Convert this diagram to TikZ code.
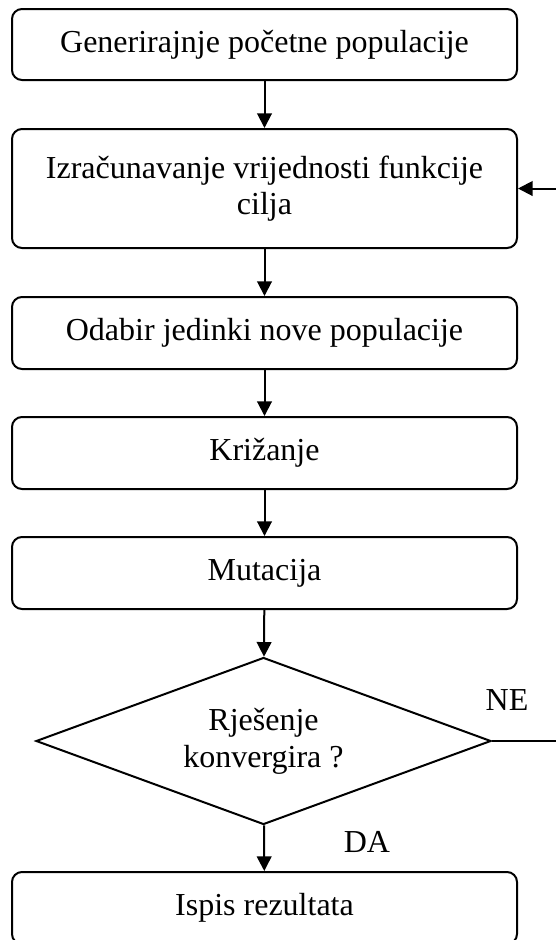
\documentclass[tikz,border=0pt]{standalone}
\usepackage{fontspec}
\setmainfont{Liberation Serif}
\usetikzlibrary{arrows.meta,shapes.geometric}
\tikzset{
  box/.style  = {draw, rounded corners=7.5pt, align=center, line width=1.5pt,
                 minimum width=378.75pt, minimum height=54pt, inner sep=0pt},
  dec/.style  = {draw, diamond, aspect=2.72, align=center, line width=1.5pt,
                 minimum width=341.25pt, minimum height=125.25pt, inner sep=0pt},
  ar/.style   = {-{Triangle[length=11pt,width=11pt]}, line width=1.5pt},
  lbl/.style  = {inner sep=0pt},
}

\begin{document}
\begin{tikzpicture}[x=0.75pt, y=-0.75pt, font=\fontsize{24}{27.5}\selectfont]
\useasboundingbox (0,0) rectangle (556,940);
\clip (0,0) rectangle (556,940);

\node[box, minimum height=53.25pt] (gen) at (264.5,44.5) {Generirajnje početne populacije};
\node[box, minimum height=89.25pt] (izr) at (264.5,188.5)
     {Izračunavanje vrijednosti funkcije\\cilja};
\node[box] (oda) at (264.5,333) {Odabir jedinki nove populacije};
\node[box] (kri) at (264.5,453) {Križanje};
\node[box] (mut) at (264.5,573) {Mutacija};
\node[dec] (konv) at (263.5,741) {Rješenje\\konvergira ?};
\node[box] (isp) at (264.5,908) {Ispis rezultata};

\foreach \a/\b in {gen/izr, izr/oda, oda/kri, kri/mut, mut/konv, konv/isp}{\draw[ar] (\a) -- (\b);}

% povratna veza (izlazi izvan slike)
\coordinate (fb) at (600,0);
\draw[ar] (konv.east) -- (konv.east -| fb) |- (izr.east);

\node[lbl] (ne) at (507,700) {NE};
\node[lbl] (da) at (367,842) {DA};
\end{tikzpicture}
\end{document}
